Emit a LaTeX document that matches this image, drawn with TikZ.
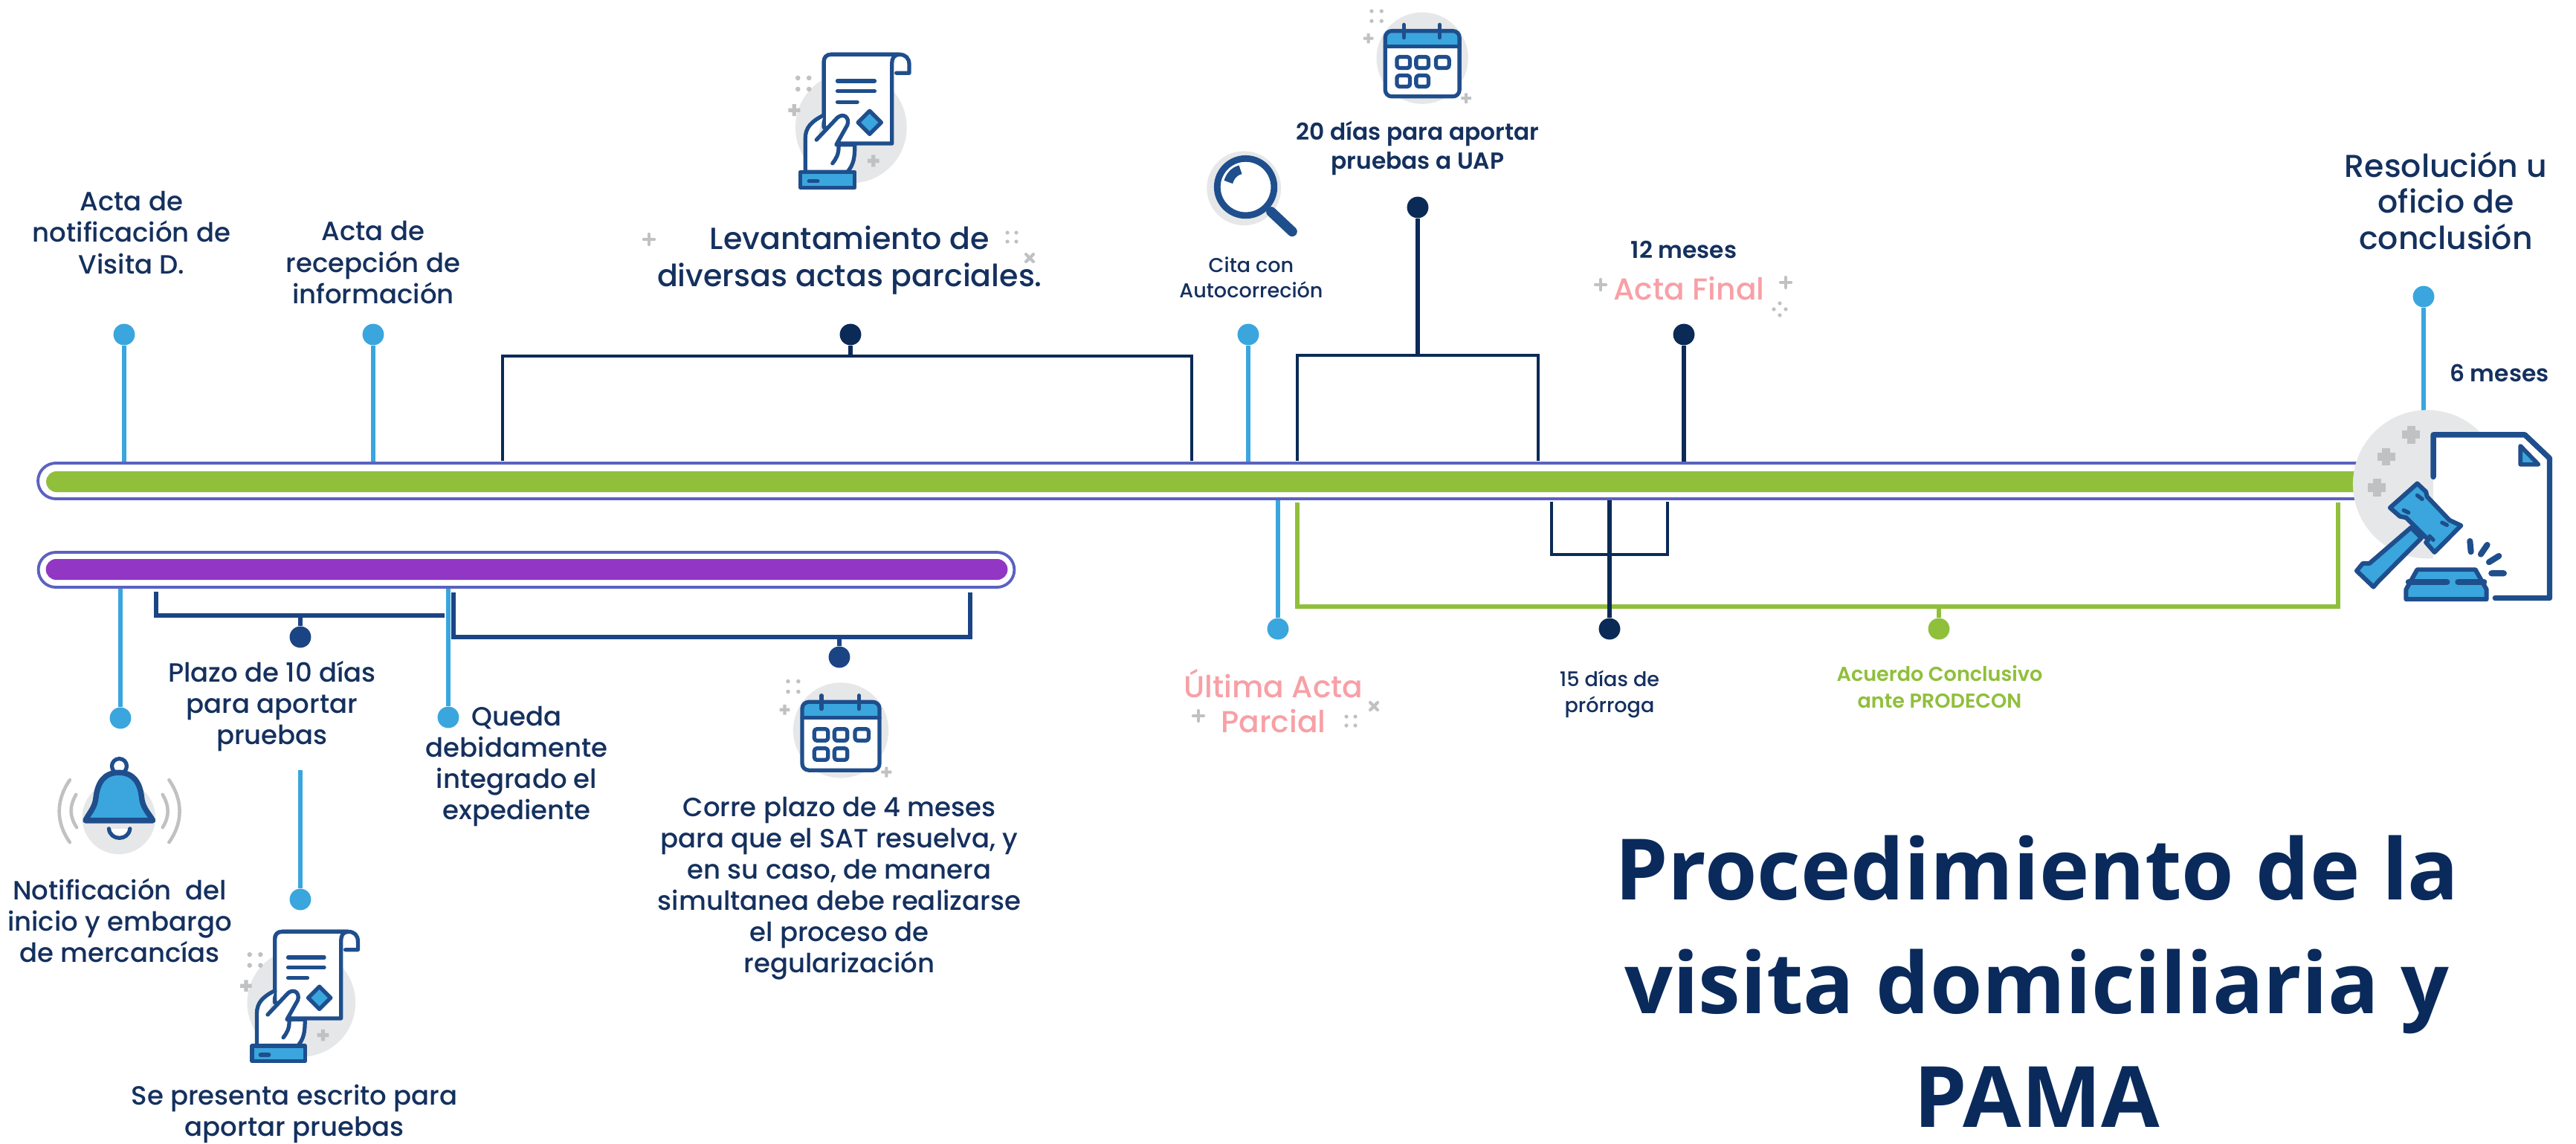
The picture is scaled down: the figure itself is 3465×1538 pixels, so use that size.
\documentclass[tikz,border=0pt]{standalone}
\usepackage{fontspec}
\usetikzlibrary{shapes.misc}
\setmainfont{Poppins}
\newfontfamily\medfont{Poppins Medium}
\newfontfamily\bldfont{Poppins SemiBold}
\newfontfamily\ttlfont{Open Sans}
\definecolor{navy}{HTML}{0B2A56}
\definecolor{txtnavy}{HTML}{14305E}
\definecolor{lownavy}{HTML}{1B4484}
\definecolor{icnavy}{HTML}{1F4E8C}
\definecolor{skyb}{HTML}{3AA6DD}
\definecolor{barg}{HTML}{90BF3C}
\definecolor{barp}{HTML}{9137C4}
\definecolor{peri}{HTML}{5B62C2}
\definecolor{pinkt}{HTML}{F7A0A6}
\definecolor{halo}{HTML}{E6E7E8}
\definecolor{spark}{HTML}{BFC1C3}
\definecolor{ttl}{HTML}{0A2A5C}
\tikzset{
  barouter/.style={rounded rectangle,draw=peri,fill=white,line width=1.1pt,inner sep=0pt},
  barinner/.style={rounded rectangle,inner sep=0pt},
  pinblue/.style={circle,fill=skyb,inner sep=0pt,minimum size=8.2pt},
  pinnavy/.style={circle,fill=navy,inner sep=0pt,minimum size=8.2pt},
  pinlow/.style={circle,fill=lownavy,inner sep=0pt,minimum size=8.2pt},
  pingreen/.style={circle,fill=barg,inner sep=0pt,minimum size=8.2pt},
  stemb/.style={skyb,line width=1.9pt},
  stemn/.style={navy,line width=1.9pt},
  steml/.style={lownavy,line width=1.9pt},
  stemg/.style={barg,line width=1.7pt},
  brack/.style={navy,line width=1.3pt},
  lab/.style={align=center,inner sep=0pt,text=txtnavy},
  tnorm/.style={lab,font=\medfont\fontsize{10.1}{11.95}\selectfont},
  tbig/.style={lab,font=\medfont\fontsize{11.7}{14.1}\selectfont},
  tres/.style={lab,font=\medfont\fontsize{12.1}{13.8}\selectfont},
  tsm/.style={lab,font=\medfont\fontsize{7.7}{9.8}\selectfont},
  tbld/.style={lab,font=\bldfont\fontsize{8.9}{11.1}\selectfont},
  tpink/.style={lab,text=pinkt,font=\medfont\fontsize{11.6}{13.6}\selectfont},
  tgreen/.style={lab,text=barg,font=\bldfont\fontsize{7.7}{10}\selectfont},
  ttitle/.style={align=center,inner sep=0pt,text=ttl,font=\ttlfont\bfseries\fontsize{32.4}{43.5}\selectfont},
  icl/.style={icnavy,line width=2.1pt,line cap=round,line join=round},
  icm/.style={icnavy,line width=1.5pt,line cap=round,line join=round},
  sparkp/.pic={\draw[spark,line width=1.2pt,line cap=round] (-7,0)--(7,0) (0,-7)--(0,7);},
  sparkd/.pic={\fill[spark] (-6,-6) circle (2.6) (6,-6) circle (2.6) (-6,6) circle (2.6) (6,6) circle (2.6);},
  sparks/.pic={\fill[spark] (-8,0) circle (2.6) (8,0) circle (2.6) (0,-8) circle (2.6) (0,8) circle (2.6);},
  docicon/.pic={
    \fill[halo] (375,395) circle (225);
    \draw[icm,fill=white] (265,395)--(265,130) .. controls (265,112) and (275,100) .. (295,100) -- (570,100) .. controls (595,100) and (610,115) .. (610,140) -- (610,175) -- (558,175);
    \draw[icm,fill=white] (265,130) .. controls (265,112) and (275,100) .. (295,100) -- (570,100) .. controls (550,100) and (540,115) .. (540,135) -- (540,460) -- (330,460) -- (265,390) -- cycle;
    \draw[icm] (320,207)--(470,207) (320,248)--(470,248) (320,292)--(400,292);
    \draw[icm,fill=skyb] (450,328)--(497,375)--(450,422)--(403,375)--cycle;
    \draw[icm,fill=white] (265,345) .. controls (215,370) and (190,395) .. (190,440) -- (190,575) -- (360,575) .. controls (385,545) and (390,520) .. (390,465) -- (315,465) -- (360,385) .. controls (370,355) and (345,335) .. (320,355) -- (235,445);
    \draw[icm] (325,470) .. controls (325,505) and (315,520) .. (300,540);
    \draw[icm,fill=skyb] (170,575) rectangle (390,638);
    \draw[icm] (205,612)--(240,612);
    \fill[spark] (145,325) ++(-8,-24) rectangle ++(16,48) (145,325) ++(-24,-8) rectangle ++(48,16);
    \fill[spark] (465,530) ++(-8,-24) rectangle ++(16,48) (465,530) ++(-24,-8) rectangle ++(48,16);
    \fill[spark] (160,195) circle (10) (205,195) circle (10) (160,240) circle (10) (205,240) circle (10);
  },
  calicon/.pic={
    \fill[halo] (280,235) circle (185);
    \fill[white,rounded corners=2.5pt] (130,125) rectangle (430,390);
    \fill[skyb,rounded corners=2.2pt] (132,127) rectangle (428,187);
    \fill[skyb] (132,160) rectangle (428,187);
    \draw[icm,rounded corners=2.5pt] (130,125) rectangle (430,390);
    \draw[icm] (130,187)--(430,187);
    \draw[icm] (205,100)--(205,152) (350,100)--(350,152);
    \draw[icm,rounded corners=1pt] (177,230) rectangle (230,275);
    \draw[icm,rounded corners=1pt] (255,230) rectangle (305,275);
    \draw[icm,rounded corners=1pt] (335,230) rectangle (388,275);
    \draw[icm,rounded corners=1pt] (177,305) rectangle (230,350);
    \draw[icm,rounded corners=1pt] (255,305) rectangle (305,350);
    \fill[spark] (62,155) ++(-6,-20) rectangle ++(12,40) (62,155) ++(-20,-6) rectangle ++(40,12);
    \fill[spark] (457,397) ++(-6,-20) rectangle ++(12,40) (457,397) ++(-20,-6) rectangle ++(40,12);
    \fill[spark] (75,45) circle (8) (115,45) circle (8) (75,85) circle (8) (115,85) circle (8);
  },
}
\begin{document}
\begin{tikzpicture}[x=0.01cm,y=-0.01cm]
\useasboundingbox (0,0) rectangle (3465,1538);
\fill[white] (0,0) rectangle (3465,1538);

% bars
\node[barouter,minimum width=31.48cm,minimum height=0.48cm] (gbarout) at (1626,647) {};
\node[barinner,fill=barg,minimum width=31.17cm,minimum height=0.28cm] (gbar) at (1621.5,648) {};
\node[barouter,minimum width=13.12cm,minimum height=0.47cm] (pbarout) at (708,766.5) {};
\node[barinner,fill=barp,minimum width=12.93cm,minimum height=0.28cm] (pbar) at (708.5,766) {};

% upper pins
\node[pinblue] (pa) at (167,450) {};
\node[pinblue] (pb) at (502,450) {};
\node[pinblue] (pc) at (1679,450) {};
\node[pinblue] (pr) at (3260,399) {};
\node[pinnavy] (pl) at (1144,450) {};
\node[pinnavy] (pd) at (1907,279) {};
\node[pinnavy] (pf) at (2265,450) {};
\draw[stemb] (pa) -- (pa |- gbarout.north);
\draw[stemb] (pb) -- (pb |- gbarout.north);
\draw[stemb] (pc) -- (pc |- gbarout.north);
\draw[stemn] (pf) -- (pf |- gbarout.north);
\coordinate (rend) at (3260,552);
\draw[stemb] (pr) -- (rend);
% upper brackets
\coordinate (l1) at (676,620);
\coordinate (l2) at (1603,620);
\coordinate (lt) at (1144,479);
\draw[brack] (l1) |- (lt) -| (l2);
\draw[stemn] (pl) -- (lt);
\coordinate (d1) at (1745,620);
\coordinate (d2) at (2069,620);
\coordinate (dt) at (1907,478);
\draw[brack] (d1) |- (dt) -| (d2);
\draw[stemn] (pd) -- (dt);

% lower right pins
\node[pinblue] (pu) at (1719,846) {};
\node[pinnavy] (pp) at (2165,846) {};
\node[pingreen] (pg) at (2608,846) {};
\draw[stemb] (pu) -- (pu |- gbarout.south);
\coordinate (g1) at (1745,676);
\coordinate (g2) at (3145,676);
\coordinate (gb) at (2608,816);
\draw[stemg] (g1) |- (gb) -| (g2);
\draw[stemg] (pg) -- (gb);
\coordinate (s1) at (2087,675);
\coordinate (s2) at (2243,675);
\coordinate (sb) at (2165,746);
\draw[brack] (s1) |- (sb) -| (s2);
\draw[stemn] (pp) -- (pp |- gbarout.south);

% purple bar pins
\node[pinblue] (pn) at (162,966) {};
\node[pinblue] (pq) at (603,965) {};
\node[pinlow] (p10) at (404,857) {};
\node[pinlow] (p4) at (1129,884) {};
\node[pinblue] (pe) at (404,1210) {};
\draw[stemb] (pn) -- (pn |- pbarout.south);
\draw[stemb] (pq) -- (pq |- pbarout.south);
\coordinate (a1) at (210,796);
\coordinate (a2) at (598,828);
\coordinate (ab) at (404,828);
\draw[steml] (a1) |- (a2);
\draw[steml] (p10) -- (ab);
\coordinate (b1) at (610,797);
\coordinate (b2) at (1305,797);
\coordinate (bb) at (1129,857);
\draw[steml] (b1) |- (bb) -| (b2);
\draw[steml] (p4) -- (bb);
\coordinate (etop) at (404,1036);
\draw[stemb] (pe) -- (etop);

% texts
\node[tnorm] (t1) at (177,313) {Acta de\\notificación de\\Visita D.};
\node[tnorm] (t2) at (502,353) {Acta de\\recepción de\\información};
\node[tbig] (t3) at (1143,350) {Levantamiento de\\diversas actas parciales.};
\node[tsm] (t4) at (1683,373) {Cita con\\Autocorreción};
\node[tbld] (t5) at (1907,199) {20 días para aportar\\pruebas a UAP};
\node[tbld] (t6) at (2265,336) {12 meses};
\node[tpink] (t7) at (2272,388) {Acta Final};
\node[tres] (t8) at (3290,270) {Resolución u\\oficio de\\conclusión};
\node[tbld] (t9) at (3362,502) {6 meses};
\node[tpink] (t10) at (1713,943) {Última Acta\\Parcial};
\node[tsm] (t11) at (2165,934) {15 días de\\prórroga};
\node[tgreen] (t12) at (2609,924) {Acuerdo Conclusivo\\ante PRODECON};
\node[tnorm] (t13) at (366,950) {Plazo de 10 días\\para aportar\\pruebas};
\node[tnorm] (t14) at (695,1031) {Queda\\debidamente\\integrado el\\expediente};
\node[tnorm] (t15) at (161,1238) {Notificación\ \ del\\inicio y embargo\\de mercancías};
\node[tnorm] (t16) at (396,1498) {Se presenta escrito para\\aportar pruebas};
\node[tnorm] (t17) at (1129,1195) {Corre plazo de 4 meses\\para que el SAT resuelva, y\\en su caso, de manera\\simultanea debe realizarse\\el proceso de\\regularización};
\node[ttitle] (title) at (2740,1320) {Procedimiento de la\\visita domiciliaria y\\PAMA};

% sparkles
\pic at (873,322) {sparkp};
\pic at (1361,319) {sparkd};
\pic[rotate=45] at (1385,347) {sparkp};
\pic at (2153,383) {sparkp};
\pic at (2402,380) {sparkp};
\pic at (2394,416) {sparks};
\pic at (1612,963) {sparkp};
\pic at (1817,970) {sparkd};
\pic[rotate=45] at (1848,950) {sparkp};

% document icons
\begin{scope}[shift={(1020,40)},x=0.003333cm,y=-0.003333cm]
  \pic at (0,0) {docicon};
\end{scope}
\begin{scope}[shift={(284,1221)},x=0.00323cm,y=-0.00323cm]
  \pic at (0,0) {docicon};
\end{scope}
% calendars
\begin{scope}[shift={(1820,0)},x=0.003333cm,y=-0.003333cm]
  \pic at (0,0) {calicon};
\end{scope}
\begin{scope}[shift={(1034,901)},x=0.00347cm,y=-0.00347cm]
  \pic at (0,0) {calicon};
\end{scope}
% magnifier
\begin{scope}[shift={(1610,190)},x=0.003333cm,y=-0.003333cm]
  \fill[halo] (190,190) circle (150);
  \fill[white] (197,185) circle (115);
  \draw[icnavy,line width=2.5pt] (197,185) circle (115);
  \draw[icnavy,line width=3.5pt] (127,165) .. controls (135,140) and (150,122) .. (176,115);
  \draw[icnavy,line width=3.8pt,line cap=round] (300,285) -- (385,365);
\end{scope}
% bell
\begin{scope}[shift={(40,1000)},x=0.003333cm,y=-0.003333cm]
  \fill[halo] (360,300) circle (148);
  \draw[spark,line width=1.3pt,line cap=round] (162,148) .. controls (105,230) and (105,320) .. (162,400);
  \draw[spark,line width=1.3pt,line cap=round] (187,207) .. controls (160,255) and (160,295) .. (190,340);
  \draw[spark,line width=1.3pt,line cap=round] (563,148) .. controls (620,230) and (620,320) .. (563,400);
  \draw[spark,line width=1.3pt,line cap=round] (537,207) .. controls (565,255) and (565,295) .. (537,340);
  \draw[icm,fill=white] (362,92) circle (30);
  \draw[icm,fill=white] (320,345) .. controls (325,395) and (400,395) .. (405,345);
  \draw[icl,fill=skyb] (360,118) .. controls (300,118) and (275,160) .. (268,215) .. controls (265,260) and (240,280) .. (225,312) -- (498,312) .. controls (480,280) and (455,260) .. (452,215) .. controls (445,160) and (420,118) .. (360,118) -- cycle;
\end{scope}
% gavel and sheet
\begin{scope}[shift={(3100,500)},x=0.003333cm,y=-0.003333cm]
  \fill[halo] (495,455) circle (300);
  \fill[white] (520,255)--(890,255)--(990,350)--(990,915)--(520,915)--cycle;
  \draw[spark,line width=3.2pt] (430,218)--(430,290) (394,254)--(466,254);
  \draw[spark,line width=3.2pt] (330,308)--(330,380) (294,344)--(366,344);
  \draw[spark,line width=3.2pt] (292,433)--(292,505) (256,469)--(328,469);
  \draw[icl] (520,425)--(520,255)--(890,255)--(990,350)--(990,915)--(770,915);
  \draw[icl,fill=skyb,line width=1.6pt] (872,300)--(872,375)--(945,375)--cycle;
  \draw[icl,line width=1.7pt,fill=skyb] (430,630)--(472,672)--(300,845)--(278,870)--(210,805)--(235,775)--(262,775)--cycle;
  \draw[icl,line width=1.7pt,fill=skyb] (455,452)--(490,485)--(495,505)--(585,600)--(632,622)--(525,730)--(490,690)--(500,680)--(410,590)--(385,585)--(345,550)--cycle;
  \draw[icm] (455,500)--(475,515) (555,610)--(575,620) (400,560)--(420,570) (505,665)--(520,680);
  \draw[icl,fill=skyb,line width=1.7pt] (410,920)--(735,920)--(735,880)--(690,800)--(455,800)--(410,880)--cycle;
  \draw[icm,line width=2.3pt] (420,850)--(575,850) (620,850)--(725,850);
  \draw[icm,line width=2.3pt] (668,685)--(672,728) (738,700)--(712,738) (785,745)--(745,770) (755,815)--(805,815);
\end{scope}
\end{tikzpicture}
\end{document}
